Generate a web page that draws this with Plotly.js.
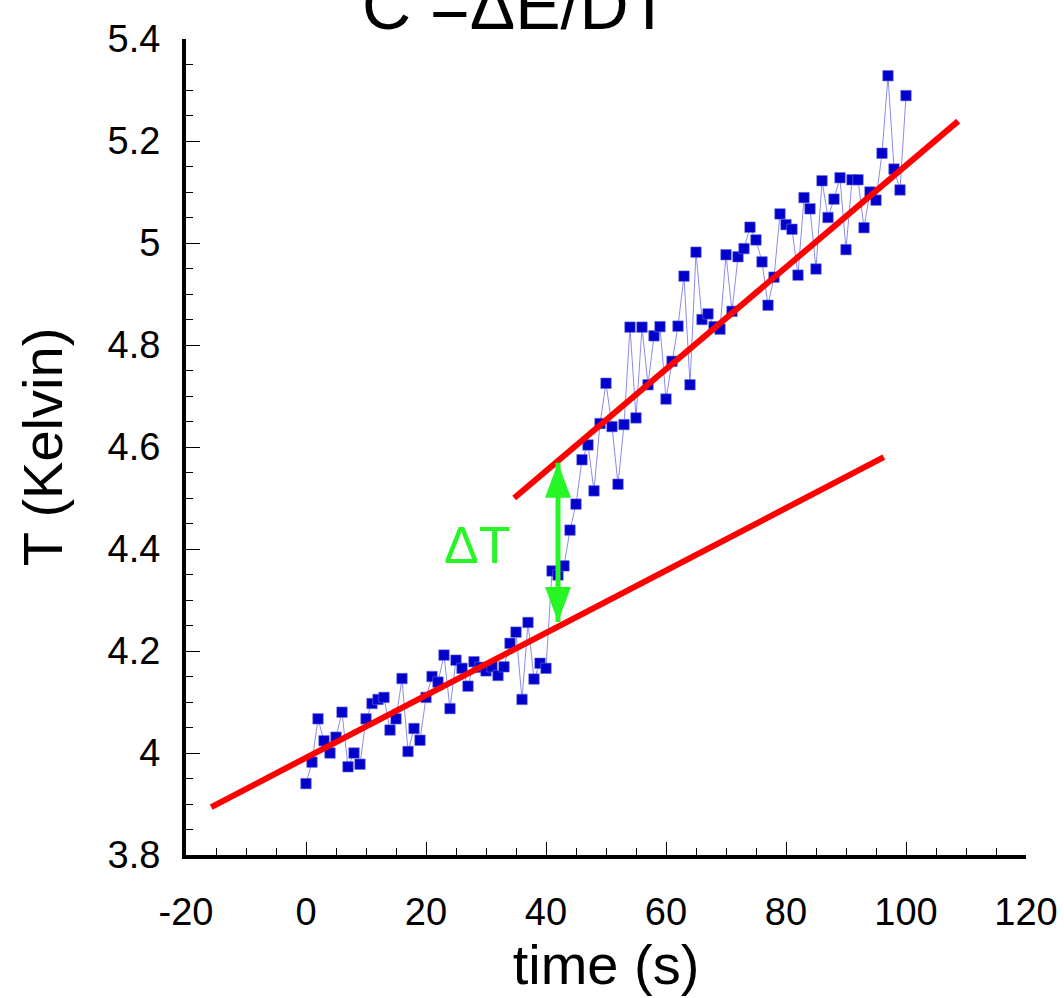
<!DOCTYPE html>
<html>
<head>
<meta charset="utf-8">
<script src="https://cdn.plot.ly/plotly-3.0.1.min.js"></script>
<style>html,body{margin:0;padding:0;background:#fff;}#chart{width:1064px;height:998px;}</style>
</head>
<body>
<div id="chart"></div>
<script>
// ---- data ----
var timeS = [0,1,2,3,4,5,6,7,8,9,10,11,12,13,14,15,16,17,18,19,20,21,22,23,24,25,26,27,28,29,30,
  31,32,33,34,35,36,37,38,39,40,41,42,43,44,45,46,47,48,49,50,51,52,53,54,55,56,57,58,59,60,
  61,62,63,64,65,66,67,68,69,70,71,72,73,74,75,76,77,78,79,80,81,82,83,84,85,86,87,88,89,90,
  91,92,93,94,95,96,97,98,99,100];
var tempK = [3.940,3.982,4.067,4.024,4.000,4.031,4.080,3.973,4.000,3.978,
  4.067,4.097,4.105,4.109,4.045,4.067,4.146,4.003,4.048,4.025,
  4.109,4.150,4.139,4.192,4.087,4.182,4.166,4.131,4.179,4.168,
  4.161,4.169,4.152,4.169,4.215,4.237,4.105,4.256,4.145,4.176,
  4.166,4.357,4.349,4.367,4.437,4.488,4.575,4.604,4.514,4.646,
  4.725,4.640,4.527,4.644,4.835,4.657,4.835,4.722,4.818,4.836,
  4.694,4.768,4.837,4.935,4.722,4.982,4.850,4.861,4.836,4.831,
  4.977,4.866,4.973,4.989,5.031,5.006,4.963,4.878,4.933,5.057,
  5.036,5.027,4.937,5.089,5.067,4.949,5.122,5.050,5.086,5.128,
  4.987,5.124,5.124,5.030,5.100,5.084,5.176,5.328,5.145,5.104,
  5.289];
// fitted lines (end points)
var fitBeforeT = [-15.8, 96.3];
var fitBeforeK = [3.894, 4.580];
var fitAfterT = [34.7, 108.7];
var fitAfterK = [4.500, 5.239];
// delta-T arrow
var arrowT = 42;
var arrowLowK = 4.257;
var arrowHighK = 4.569;
var deltaLabelT = 28.5;
var deltaLabelK = 4.408;
// axis ticks
var xTicks = [-20, 0, 20, 40, 60, 80, 100, 120];
var yTicks = [3.8, 4, 4.2, 4.4, 4.6, 4.8, 5, 5.2, 5.4];
var yTickText = ['3.8', '4', '4.2', '4.4', '4.6', '4.8', '5', '5.2', '5.4'];
var titleText = 'C =\u0394E/DT';
var titleT = 35;

var GREEN = 'rgb(38,245,38)';
var FONT = 'Liberation Sans, Arial, sans-serif';

var traces = [
  {
    x: timeS, y: tempK, type: 'scatter', mode: 'lines+markers',
    line: {color: 'rgb(140,140,235)', width: 1},
    marker: {symbol: 'square', size: 10.5, color: 'rgb(0,0,204)', line: {color: 'rgb(110,110,225)', width: 0.6}},
    hoverinfo: 'skip'
  },
  {
    x: fitBeforeT, y: fitBeforeK, type: 'scatter', mode: 'lines',
    line: {color: 'rgb(255,0,0)', width: 6}, hoverinfo: 'skip'
  },
  {
    x: fitAfterT, y: fitAfterK, type: 'scatter', mode: 'lines',
    line: {color: 'rgb(255,0,0)', width: 6}, hoverinfo: 'skip'
  },
  {
    x: [arrowT, arrowT], y: [arrowLowK, arrowHighK], type: 'scatter', mode: 'lines',
    line: {color: GREEN, width: 5}, hoverinfo: 'skip'
  }
];

var layout = {
  width: 1064, height: 998,
  margin: {l: 186, r: 38, t: 39, b: 143, pad: 0},
  paper_bgcolor: '#fff', plot_bgcolor: '#fff',
  showlegend: false,
  font: {family: FONT, color: '#000'},
  xaxis: {
    range: [-20, 120], tickvals: xTicks, ticktext: xTicks.map(String),
    showgrid: false, zeroline: false,
    showline: true, linecolor: '#000', linewidth: 4,
    ticks: 'inside', ticklen: 13, tickwidth: 1, tickcolor: '#000',
    minor: {dtick: 5, ticks: 'inside', ticklen: 7, tickwidth: 1, tickcolor: '#000', showgrid: false},
    tickfont: {size: 38, family: FONT, color: '#000'},
    ticklabelstandoff: 20,
    title: {text: 'time (s)', font: {size: 56, family: FONT, color: '#000'}, standoff: 14}
  },
  yaxis: {
    range: [3.8, 5.4], tickvals: yTicks, ticktext: yTickText,
    showgrid: false, zeroline: false,
    showline: true, linecolor: '#000', linewidth: 4,
    ticks: 'inside', ticklen: 14, tickwidth: 1, tickcolor: '#000',
    minor: {dtick: 0.05, tick0: 3.8, ticks: 'inside', ticklen: 7, tickwidth: 1, tickcolor: '#000', showgrid: false},
    tickfont: {size: 38, family: FONT, color: '#000'},
    ticklabelstandoff: 14,
    title: {text: 'T (Kelvin)', font: {size: 56, family: FONT, color: '#000'}, standoff: 28}
  },
  shapes: [
    {type: 'path', xref: 'x', yref: 'y', xsizemode: 'pixel', ysizemode: 'pixel',
     xanchor: arrowT, yanchor: arrowHighK, path: 'M0,0 L-13,-35 L13,-35 Z',
     fillcolor: GREEN, line: {width: 0}},
    {type: 'path', xref: 'x', yref: 'y', xsizemode: 'pixel', ysizemode: 'pixel',
     xanchor: arrowT, yanchor: arrowLowK, path: 'M0,0 L-13,35 L13,35 Z',
     fillcolor: GREEN, line: {width: 0}}
  ],
  annotations: [
    {x: deltaLabelT, y: deltaLabelK, xref: 'x', yref: 'y', text: '\u0394T', showarrow: false,
     font: {size: 52, family: FONT, color: GREEN}, xanchor: 'center', yanchor: 'middle'},
    {x: titleT, y: 1, xref: 'x', yref: 'paper', text: titleText, showarrow: false,
     font: {size: 68, family: FONT, color: '#000'}, xanchor: 'center', yanchor: 'bottom', yshift: -6}
  ]
};

Plotly.newPlot('chart', traces, layout, {staticPlot: true, displayModeBar: false});
</script>
</body>
</html>
